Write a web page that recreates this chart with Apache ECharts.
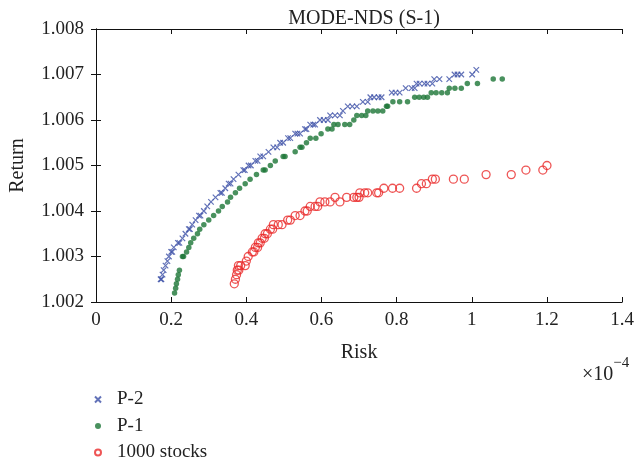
<!DOCTYPE html>
<html>
<head>
<meta charset="utf-8">
<script src="https://cdn.jsdelivr.net/npm/echarts@6/dist/echarts.min.js"></script>
<style>
  html, body { margin: 0; padding: 0; background: #fff; }
  #chart { width: 637px; height: 463px; }
</style>
</head>
<body>
<div id="chart"></div>
<script>
// Risk values are in units of 1e-4 (the axis carries a ×10^-4 multiplier).
const xTicks = [0, 0.2, 0.4, 0.6, 0.8, 1.0, 1.2, 1.4];
const yTicks = [1.002, 1.003, 1.004, 1.005, 1.006, 1.007, 1.008];

// P-2 frontier
const p2Risk = [
  0.172, 0.174, 0.177, 0.180, 0.185, 0.190, 0.194, 0.200, 0.203, 0.207,
  0.218, 0.222, 0.230, 0.238, 0.247, 0.250, 0.256, 0.265, 0.274, 0.278,
  0.287, 0.296, 0.306, 0.318, 0.331, 0.335, 0.344, 0.353, 0.358, 0.366,
  0.379, 0.392, 0.396, 0.406, 0.412, 0.424, 0.430, 0.437, 0.445, 0.459,
  0.472, 0.482, 0.490, 0.498, 0.511, 0.517, 0.530, 0.536, 0.543, 0.556,
  0.560, 0.570, 0.578, 0.583, 0.596, 0.606, 0.617, 0.623, 0.636, 0.649,
  0.657, 0.670, 0.682, 0.694, 0.710, 0.723, 0.730, 0.740, 0.752, 0.760,
  0.787, 0.797, 0.808, 0.824, 0.840, 0.848, 0.853, 0.861, 0.874, 0.882,
  0.895, 0.900, 0.914, 0.940, 0.954, 0.962, 0.972, 1.001, 1.012
];
const p2Return = [
  1.0025, 1.0025, 1.0026, 1.0027, 1.0028, 1.0029, 1.0030, 1.0031, 1.0031, 1.0032,
  1.0033, 1.0033, 1.0034, 1.0035, 1.0036, 1.0036, 1.0037, 1.0038, 1.0039, 1.0039,
  1.0040, 1.0041, 1.0042, 1.0043, 1.0044, 1.0044, 1.0045, 1.0046, 1.0046, 1.0047,
  1.0048, 1.0049, 1.0049, 1.0050, 1.0050, 1.0051, 1.0051, 1.0052, 1.0052, 1.0053,
  1.0054, 1.0054, 1.0055, 1.0055, 1.0056, 1.0056, 1.0057, 1.0057, 1.0057, 1.0058,
  1.0058, 1.0059, 1.0059, 1.0059, 1.0060, 1.0060, 1.0060, 1.0061, 1.0061, 1.0061,
  1.0062, 1.0063, 1.0063, 1.0063, 1.0064, 1.0064, 1.0065, 1.0065, 1.0065, 1.0065,
  1.0066, 1.0066, 1.0066, 1.0067, 1.0067, 1.0067, 1.0068, 1.0068, 1.0068, 1.0068,
  1.0068, 1.0069, 1.0069, 1.0069, 1.0070, 1.0070, 1.0070, 1.0070, 1.0071
];

// P-1 frontier
const p1Risk = [
  0.209, 0.212, 0.214, 0.217, 0.219, 0.222, 0.230, 0.233, 0.241, 0.247,
  0.252, 0.260, 0.270, 0.276, 0.287, 0.300, 0.313, 0.326, 0.336, 0.350,
  0.358, 0.371, 0.382, 0.397, 0.410, 0.427, 0.445, 0.450, 0.464, 0.477,
  0.498, 0.503, 0.530, 0.543, 0.548, 0.560, 0.570, 0.585, 0.599, 0.617,
  0.628, 0.633, 0.644, 0.662, 0.675, 0.686, 0.694, 0.707, 0.718, 0.723,
  0.737, 0.750, 0.763, 0.773, 0.776, 0.790, 0.808, 0.829, 0.848, 0.860,
  0.872, 0.882, 0.892, 0.905, 0.920, 0.935, 0.940, 0.955, 0.972, 0.988,
  1.015, 1.057, 1.081
];
const p1Return = [
  1.0022, 1.0023, 1.0024, 1.0025, 1.0026, 1.0027, 1.0030, 1.0030, 1.0031, 1.0032,
  1.0033, 1.0034, 1.0035, 1.0036, 1.0037, 1.0038, 1.0039, 1.0040, 1.0041, 1.0042,
  1.0043, 1.0044, 1.0045, 1.0046, 1.0047, 1.0048, 1.0049, 1.0049, 1.0050, 1.0051,
  1.0052, 1.0052, 1.0053, 1.0054, 1.0054, 1.0055, 1.0056, 1.0056, 1.0057, 1.0058,
  1.0058, 1.0059, 1.0059, 1.0059, 1.0059, 1.0060, 1.0061, 1.0061, 1.0061, 1.0062,
  1.0062, 1.0062, 1.0062, 1.0063, 1.0063, 1.0064, 1.0064, 1.0064, 1.0065, 1.0065,
  1.0065, 1.0065, 1.0066, 1.0066, 1.0066, 1.0066, 1.0067, 1.0067, 1.0067, 1.0068,
  1.0068, 1.0069, 1.0069
];

// 1000-stock frontier
const stocksRisk = [
  0.368, 0.371, 0.374, 0.376, 0.380, 0.379, 0.385, 0.397, 0.400, 0.405,
  0.416, 0.420, 0.424, 0.430, 0.432, 0.437, 0.442, 0.448, 0.450, 0.456,
  0.464, 0.470, 0.472, 0.485, 0.495, 0.510, 0.517, 0.530, 0.543, 0.556,
  0.562, 0.570, 0.583, 0.590, 0.596, 0.609, 0.623, 0.649, 0.636, 0.667,
  0.686, 0.694, 0.700, 0.702, 0.715, 0.723, 0.747, 0.752, 0.766, 0.789,
  0.808, 0.853, 0.866, 0.879, 0.895, 0.903, 0.951, 0.980, 1.038, 1.105,
  1.144, 1.189, 1.200
];
const stocksReturn = [
  1.0024, 1.0025, 1.0026, 1.0027, 1.0027, 1.0028, 1.0028, 1.0028, 1.0029, 1.0030,
  1.0031, 1.0031, 1.0032, 1.0032, 1.0033, 1.0033, 1.0034, 1.0034, 1.0035, 1.0035,
  1.0036, 1.0036, 1.0037, 1.0037, 1.0037, 1.0038, 1.0038, 1.0039, 1.0039, 1.0040,
  1.0040, 1.0041, 1.0041, 1.0041, 1.0042, 1.0042, 1.0042, 1.0042, 1.0043, 1.0043,
  1.0043, 1.0043, 1.0043, 1.0044, 1.0044, 1.0044, 1.0044, 1.0044, 1.0045, 1.0045,
  1.0045, 1.0045, 1.0046, 1.0046, 1.0047, 1.0047, 1.0047, 1.0047, 1.0048, 1.0048,
  1.0049, 1.0049, 1.0050
];

const pairs = (xs, ys) => xs.map((x, i) => [x, ys[i]]);

const FONT = '"Liberation Serif", "DejaVu Serif", serif';
const INK = '#222';
const crossPath = 'path://M0,0L10,10M10,0L0,10';

const chart = echarts.init(document.getElementById('chart'), null, { renderer: 'canvas' });

const baseAxis = {
  axisLine: { show: true, lineStyle: { color: '#111', width: 1 } },
  axisTick: { show: true, inside: true, length: 5, lineStyle: { color: '#111' } },
  splitLine: { show: false }
};

chart.setOption({
  animation: false,
  backgroundColor: '#fff',
  title: {
    text: 'MODE-NDS (S-1)',
    left: 359, top: 4, textAlign: 'center',
    textStyle: { fontFamily: FONT, fontSize: 20, fontWeight: 'normal', color: INK }
  },
  grid: { left: 95, right: 14, top: 29, bottom: 161, containLabel: false },
  xAxis: [
    Object.assign({}, baseAxis, {
      type: 'value', position: 'bottom',
      min: xTicks[0], max: xTicks[xTicks.length - 1], interval: 0.2,
      name: 'Risk', nameLocation: 'middle', nameGap: 41,
      nameTextStyle: { fontFamily: FONT, fontSize: 20, color: INK },
      axisLabel: {
        margin: 9, fontFamily: FONT, fontSize: 19, color: INK,
        formatter: v => String(Math.round(v * 10) / 10)
      }
    }),
    Object.assign({}, baseAxis, {
      type: 'value', position: 'top',
      min: xTicks[0], max: xTicks[xTicks.length - 1], interval: 0.2,
      axisLabel: { show: false }
    })
  ],
  yAxis: [
    Object.assign({}, baseAxis, {
      type: 'value', position: 'left',
      min: yTicks[0], max: yTicks[yTicks.length - 1], interval: 0.001,
      name: 'Return', nameLocation: 'middle', nameGap: 68,
      nameTextStyle: { fontFamily: FONT, fontSize: 20, color: INK },
      axisLabel: {
        margin: 12, fontFamily: FONT, fontSize: 19, color: INK,
        formatter: v => v.toFixed(3)
      }
    }),
    Object.assign({}, baseAxis, {
      type: 'value', position: 'right',
      min: yTicks[0], max: yTicks[yTicks.length - 1], interval: 0.001,
      axisLabel: { show: false }
    })
  ],
  legend: {
    orient: 'vertical',
    left: 94, top: 390, padding: 0,
    itemWidth: 6, itemHeight: 6, itemGap: 7.5,
    textStyle: { fontFamily: FONT, fontSize: 19, color: INK, padding: [0, 0, 0, 11], lineHeight: 18 },
    data: ['P-2', 'P-1', '1000 stocks']
  },
  series: [
    {
      name: 'P-2', type: 'scatter',
      data: pairs(p2Risk, p2Return),
      symbol: crossPath, symbolSize: 5.5,
      itemStyle: { color: 'rgba(0,0,0,0)', borderColor: '#3b4fa6', borderWidth: 1.2 },
      z: 3
    },
    {
      name: 'P-1', type: 'scatter',
      data: pairs(p1Risk, p1Return),
      symbol: 'circle', symbolSize: 5.5,
      itemStyle: { color: '#1c7636' },
      z: 2
    },
    {
      name: '1000 stocks', type: 'scatter',
      data: pairs(stocksRisk, stocksReturn),
      symbol: 'circle', symbolSize: 8,
      itemStyle: { color: 'rgba(255,255,255,0)', borderColor: '#ea2a2a', borderWidth: 1.3 },
      z: 1
    }
  ],
  graphic: [
    {
      type: 'text', left: 582, top: 356,
      style: {
        text: '{b|×10}{s|−4}',
        rich: {
          b: { fontFamily: FONT, fontSize: 20, fill: INK, padding: [13, 0, 0, 0] },
          s: { fontFamily: FONT, fontSize: 15, fill: INK, padding: [0, 0, 9, 0] }
        }
      }
    }
  ]
});
</script>
</body>
</html>
